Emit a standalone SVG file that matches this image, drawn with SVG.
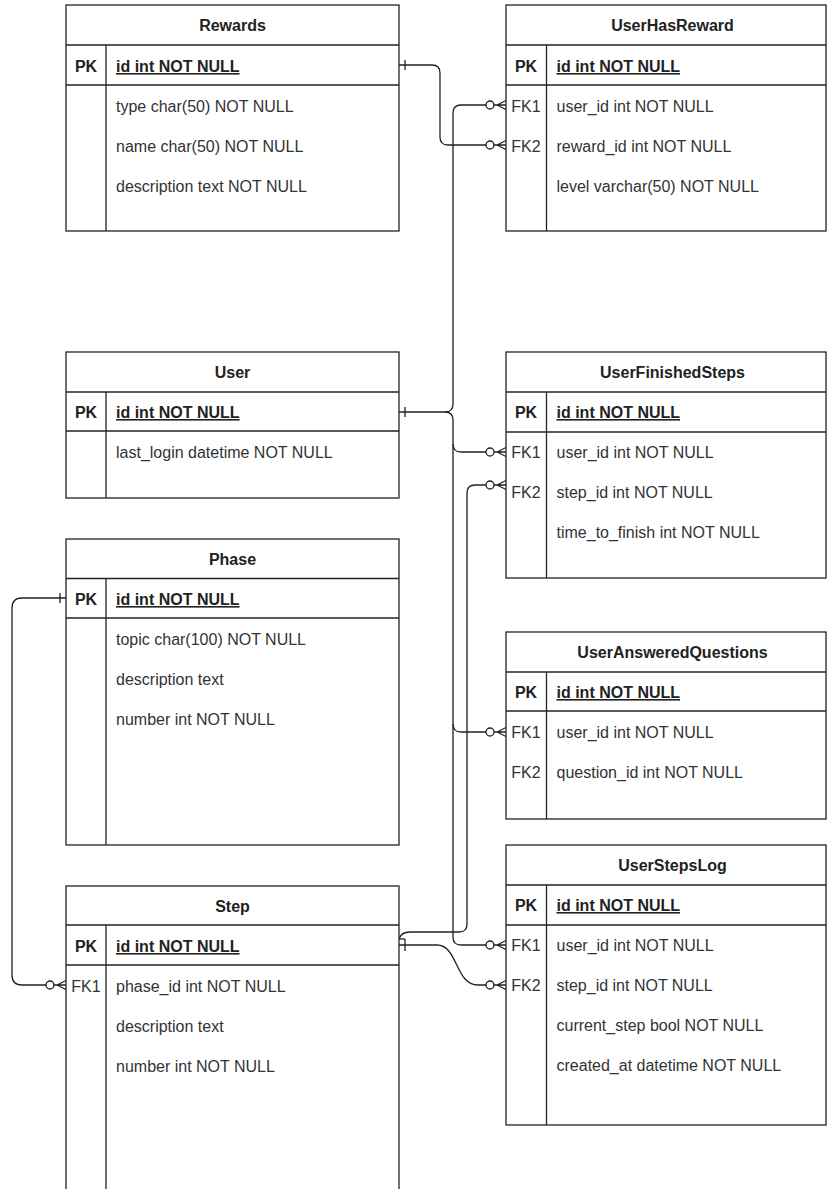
<svg xmlns="http://www.w3.org/2000/svg" width="828" height="1189" viewBox="0 0 828 1189">
<style>
.box{fill:#fff;stroke:#222;stroke-width:1.3}
.ln{stroke:#222;stroke-width:1.3;fill:none}
text{font-family:"Liberation Sans",Arial,sans-serif;font-size:16px;fill:#333}
.hdr{font-weight:bold;text-anchor:middle;fill:#222}
.key{text-anchor:middle}
.pkk{font-weight:bold;text-anchor:middle;fill:#222}
.pkf{font-weight:bold;text-decoration:underline;fill:#222}
.edge{stroke:#222;stroke-width:1.3;fill:none}
.circ{fill:#fff;stroke:#222;stroke-width:1.3}
</style>
<rect width="828" height="1189" fill="#fff"/>

<g id="connectors">
  <!-- Rewards.id -> UserHasReward.reward_id -->
  <path class="edge" d="M399,65 H432 Q440,65 440,73 V137 Q440,145 448,145 H486"/>
  <line class="edge" x1="405" y1="60" x2="405" y2="70"/>
  <circle class="circ" cx="490" cy="145" r="4"/>
  <path class="edge" d="M494,145 H506 M497,145 L506,140.5 M497,145 L506,149.5"/>

  <!-- User.id -> UserHasReward.user_id -->
  <path class="edge" d="M399,412 H445 Q453,412 453,404 V113 Q453,105 461,105 H486"/>
  <circle class="circ" cx="490" cy="105" r="4"/>
  <path class="edge" d="M494,105 H506 M497,105 L506,100.5 M497,105 L506,109.5"/>
  <line class="edge" x1="405" y1="407" x2="405" y2="417"/>

  <!-- User.id -> UserFinishedSteps.user_id -->
  <path class="edge" d="M445,412 Q453,412 453,420 V444 Q453,452 461,452 H486"/>
  <circle class="circ" cx="490" cy="452" r="4"/>
  <path class="edge" d="M494,452 H506 M497,452 L506,447.5 M497,452 L506,456.5"/>

  <!-- User.id -> UserAnsweredQuestions.user_id -->
  <path class="edge" d="M453,444 V724 Q453,732 461,732 H486"/>
  <circle class="circ" cx="490" cy="732" r="4"/>
  <path class="edge" d="M494,732 H506 M497,732 L506,727.5 M497,732 L506,736.5"/>

  <!-- User.id -> UserStepsLog.user_id -->
  <path class="edge" d="M453,724 V937 Q453,945 461,945 H486"/>
  <circle class="circ" cx="490" cy="945" r="4"/>
  <path class="edge" d="M494,945 H506 M497,945 L506,940.5 M497,945 L506,949.5"/>

  <!-- Step.id -> UserFinishedSteps.step_id -->
  <path class="edge" d="M399,939 Q401,932 410,932 H459 Q467,932 467,924 V493 Q467,485 475,485 H486"/>
  <circle class="circ" cx="490" cy="485" r="4"/>
  <path class="edge" d="M494,485 H506 M497,485 L506,480.5 M497,485 L506,489.5"/>

  <!-- Step.id -> UserStepsLog.step_id -->
  <path class="edge" d="M399,945 H437 C458,945 455,985 478,985 H486"/>
  <line class="edge" x1="399" y1="939" x2="405" y2="939"/>
  <line class="edge" x1="405" y1="939" x2="405" y2="951"/>
  <circle class="circ" cx="490" cy="985" r="4"/>
  <path class="edge" d="M494,985 H506 M497,985 L506,980.5 M497,985 L506,989.5"/>

  <!-- Phase.id -> Step.phase_id -->
  <path class="edge" d="M66,598 H22 Q12,598 12,608 V975 Q12,985 22,985 H46"/>
  <line class="edge" x1="60" y1="593" x2="60" y2="603"/>
  <circle class="circ" cx="50" cy="985" r="4"/>
  <path class="edge" d="M54,985 H66 M57,985 L66,980.5 M57,985 L66,989.5"/>
</g>

<g id="Rewards">
  <rect class="box" x="66" y="5" width="333" height="226"/>
  <line class="ln" x1="66" y1="45" x2="399" y2="45"/>
  <line class="ln" x1="66" y1="85" x2="399" y2="85"/>
  <line class="ln" x1="106" y1="45" x2="106" y2="231"/>
  <text class="hdr" x="232.5" y="31">Rewards</text>
  <text class="pkk" x="86" y="72">PK</text>
  <text class="pkf" x="116" y="72">id int NOT NULL</text>
  <text x="116" y="112">type char(50) NOT NULL</text>
  <text x="116" y="152">name char(50) NOT NULL</text>
  <text x="116" y="192">description text NOT NULL</text>
</g>

<g id="UserHasReward">
  <rect class="box" x="506" y="5" width="320" height="226"/>
  <line class="ln" x1="506" y1="45" x2="826" y2="45"/>
  <line class="ln" x1="506" y1="85" x2="826" y2="85"/>
  <line class="ln" x1="546.5" y1="45" x2="546.5" y2="231"/>
  <text class="hdr" x="672.5" y="31">UserHasReward</text>
  <text class="pkk" x="526" y="72">PK</text>
  <text class="pkf" x="556.5" y="72">id int NOT NULL</text>
  <text class="key" x="526" y="112">FK1</text>
  <text x="556.5" y="112">user_id int NOT NULL</text>
  <text class="key" x="526" y="152">FK2</text>
  <text x="556.5" y="152">reward_id int NOT NULL</text>
  <text x="556.5" y="192">level varchar(50) NOT NULL</text>
</g>

<g id="User">
  <rect class="box" x="66" y="352" width="333" height="146"/>
  <line class="ln" x1="66" y1="392" x2="399" y2="392"/>
  <line class="ln" x1="66" y1="431" x2="399" y2="431"/>
  <line class="ln" x1="106" y1="392" x2="106" y2="498"/>
  <text class="hdr" x="232.5" y="378">User</text>
  <text class="pkk" x="86" y="418">PK</text>
  <text class="pkf" x="116" y="418">id int NOT NULL</text>
  <text x="116" y="458">last_login datetime NOT NULL</text>
</g>

<g id="UserFinishedSteps">
  <rect class="box" x="506" y="352" width="320" height="226"/>
  <line class="ln" x1="506" y1="392" x2="826" y2="392"/>
  <line class="ln" x1="506" y1="432" x2="826" y2="432"/>
  <line class="ln" x1="546.5" y1="392" x2="546.5" y2="578"/>
  <text class="hdr" x="672.5" y="378">UserFinishedSteps</text>
  <text class="pkk" x="526" y="418">PK</text>
  <text class="pkf" x="556.5" y="418">id int NOT NULL</text>
  <text class="key" x="526" y="458">FK1</text>
  <text x="556.5" y="458">user_id int NOT NULL</text>
  <text class="key" x="526" y="498">FK2</text>
  <text x="556.5" y="498">step_id int NOT NULL</text>
  <text x="556.5" y="538">time_to_finish int NOT NULL</text>
</g>

<g id="Phase">
  <rect class="box" x="66" y="539" width="333" height="306"/>
  <line class="ln" x1="66" y1="578.5" x2="399" y2="578.5"/>
  <line class="ln" x1="66" y1="618" x2="399" y2="618"/>
  <line class="ln" x1="106" y1="578.5" x2="106" y2="845"/>
  <text class="hdr" x="232.5" y="565">Phase</text>
  <text class="pkk" x="86" y="605">PK</text>
  <text class="pkf" x="116" y="605">id int NOT NULL</text>
  <text x="116" y="645">topic char(100) NOT NULL</text>
  <text x="116" y="685">description text</text>
  <text x="116" y="725">number int NOT NULL</text>
</g>

<g id="UserAnsweredQuestions">
  <rect class="box" x="506" y="632" width="320" height="187"/>
  <line class="ln" x1="506" y1="672" x2="826" y2="672"/>
  <line class="ln" x1="506" y1="711" x2="826" y2="711"/>
  <line class="ln" x1="546.5" y1="672" x2="546.5" y2="819"/>
  <text class="hdr" x="672.5" y="658">UserAnsweredQuestions</text>
  <text class="pkk" x="526" y="698">PK</text>
  <text class="pkf" x="556.5" y="698">id int NOT NULL</text>
  <text class="key" x="526" y="738">FK1</text>
  <text x="556.5" y="738">user_id int NOT NULL</text>
  <text class="key" x="526" y="778">FK2</text>
  <text x="556.5" y="778">question_id int NOT NULL</text>
</g>

<g id="Step">
  <rect class="box" x="66" y="886" width="333" height="330"/>
  <line class="ln" x1="66" y1="925" x2="399" y2="925"/>
  <line class="ln" x1="66" y1="965" x2="399" y2="965"/>
  <line class="ln" x1="106" y1="925" x2="106" y2="1216"/>
  <text class="hdr" x="232.5" y="912">Step</text>
  <text class="pkk" x="86" y="952">PK</text>
  <text class="pkf" x="116" y="952">id int NOT NULL</text>
  <text class="key" x="86" y="992">FK1</text>
  <text x="116" y="992">phase_id int NOT NULL</text>
  <text x="116" y="1032">description text</text>
  <text x="116" y="1072">number int NOT NULL</text>
</g>

<g id="UserStepsLog">
  <rect class="box" x="506" y="845" width="320" height="280"/>
  <line class="ln" x1="506" y1="885" x2="826" y2="885"/>
  <line class="ln" x1="506" y1="925" x2="826" y2="925"/>
  <line class="ln" x1="546.5" y1="885" x2="546.5" y2="1125"/>
  <text class="hdr" x="672.5" y="871">UserStepsLog</text>
  <text class="pkk" x="526" y="911">PK</text>
  <text class="pkf" x="556.5" y="911">id int NOT NULL</text>
  <text class="key" x="526" y="951">FK1</text>
  <text x="556.5" y="951">user_id int NOT NULL</text>
  <text class="key" x="526" y="991">FK2</text>
  <text x="556.5" y="991">step_id int NOT NULL</text>
  <text x="556.5" y="1031">current_step bool NOT NULL</text>
  <text x="556.5" y="1071">created_at datetime NOT NULL</text>
</g>
</svg>
